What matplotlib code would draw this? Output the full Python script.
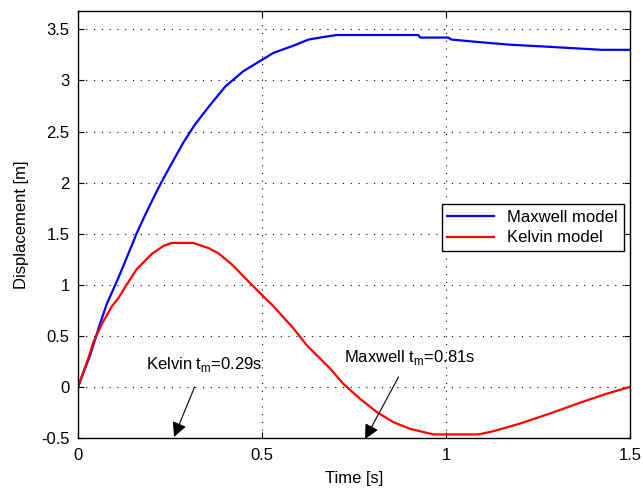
import matplotlib
matplotlib.use("Agg")
import matplotlib.pyplot as plt

plt.rcParams['font.family'] = ['Liberation Sans', 'DejaVu Sans']

# Maxwell model
t_maxwell = [0.0, 0.033, 0.06, 0.078, 0.11, 0.141, 0.159, 0.182, 0.209, 0.232, 0.255,
             0.286, 0.318, 0.359, 0.40, 0.449, 0.499, 0.531, 0.585, 0.626, 0.658, 0.703,
             0.925, 0.93, 1.006, 1.015, 1.092, 1.174, 1.278, 1.423, 1.5]
y_maxwell = [0.0, 0.31, 0.62, 0.81, 1.07, 1.34, 1.50, 1.68, 1.88, 2.04, 2.19,
             2.39, 2.57, 2.76, 2.94, 3.09, 3.20, 3.27, 3.34, 3.40, 3.42, 3.445,
             3.445, 3.42, 3.42, 3.40, 3.375, 3.35, 3.33, 3.30, 3.30]

# Kelvin model
t_kelvin = [0.0, 0.028, 0.042, 0.064, 0.092, 0.11, 0.132, 0.159, 0.20, 0.232, 0.255,
            0.313, 0.354, 0.381, 0.418, 0.472, 0.531, 0.585, 0.621, 0.685, 0.721,
            0.766, 0.812, 0.857, 0.902, 0.966, 1.088, 1.128, 1.20, 1.283, 1.364,
            1.437, 1.5]
y_kelvin = [0.0, 0.28, 0.44, 0.61, 0.79, 0.87, 1.00, 1.15, 1.30, 1.38, 1.41,
            1.41, 1.36, 1.31, 1.20, 1.00, 0.79, 0.575, 0.41, 0.18, 0.03,
            -0.115, -0.246, -0.345, -0.41, -0.465, -0.465, -0.434, -0.36, -0.26, -0.155,
            -0.066, 0.0]

x_ticks = [0, 0.5, 1, 1.5]
x_ticklabels = ['0', '0.5', '1', '1.5']
y_ticks = [-0.5, 0, 0.5, 1, 1.5, 2, 2.5, 3, 3.5]
y_ticklabels = ['-0.5', '0', '0.5', '1', '1.5', '2', '2.5', '3', '3.5']

FS = 12

fig = plt.figure(figsize=(6.43, 4.90), dpi=100)
ax = fig.add_axes([78/643, 1 - 438/490, (630-78)/643, (438-11)/490])

ax.plot(t_maxwell, y_maxwell, color='#0000ff', lw=1.6, label='Maxwell model')
ax.plot(t_kelvin, y_kelvin, color='#ff0000', lw=1.6, label='Kelvin model')

ax.set_xlim(0, 1.5)
ax.set_ylim(-0.5, 3.68)
ax.set_xticks(x_ticks)
ax.set_xticklabels(x_ticklabels)
ax.set_yticks(y_ticks)
ax.set_yticklabels(y_ticklabels)
ax.tick_params(direction='in', top=True, right=True, length=4, labelsize=FS, width=0.8)
ax.tick_params(axis='x', pad=7)
ax.tick_params(axis='y', pad=6)
for s in ax.spines.values():
    s.set_linewidth(1.0)
ax.grid(True, color='black', linestyle=(0, (1, 6)), linewidth=0.8)

ax.set_xlabel('Time [s]', fontsize=FS, labelpad=6)
ax.set_ylabel('Displacement [m]', fontsize=FS, labelpad=9)

ax.annotate('Kelvin t$_\\mathregular{m}$=0.29s', xy=(0.261, -0.49), xytext=(0.342, 0.22),
            ha='center', va='center', fontsize=FS, annotation_clip=False,
            arrowprops=dict(arrowstyle='-|>', color='black', lw=0.8, mutation_scale=22,
                            shrinkA=8, shrinkB=0))
ax.annotate('Maxwell t$_\\mathregular{m}$=0.81s', xy=(0.78, -0.51), xytext=(0.90, 0.29),
            ha='center', va='center', fontsize=FS, annotation_clip=False,
            arrowprops=dict(arrowstyle='-|>', color='black', lw=0.8, mutation_scale=22,
                            shrinkA=6, shrinkB=0))

leg = ax.legend(loc='center right', bbox_to_anchor=(0.989, 0.493), fontsize=FS,
                fancybox=False, edgecolor='black', framealpha=1, handlelength=2.8,
                borderpad=0.35, labelspacing=0.35, borderaxespad=0)
leg.get_frame().set_linewidth(1.0)

fig.savefig('out.png', dpi=100)
